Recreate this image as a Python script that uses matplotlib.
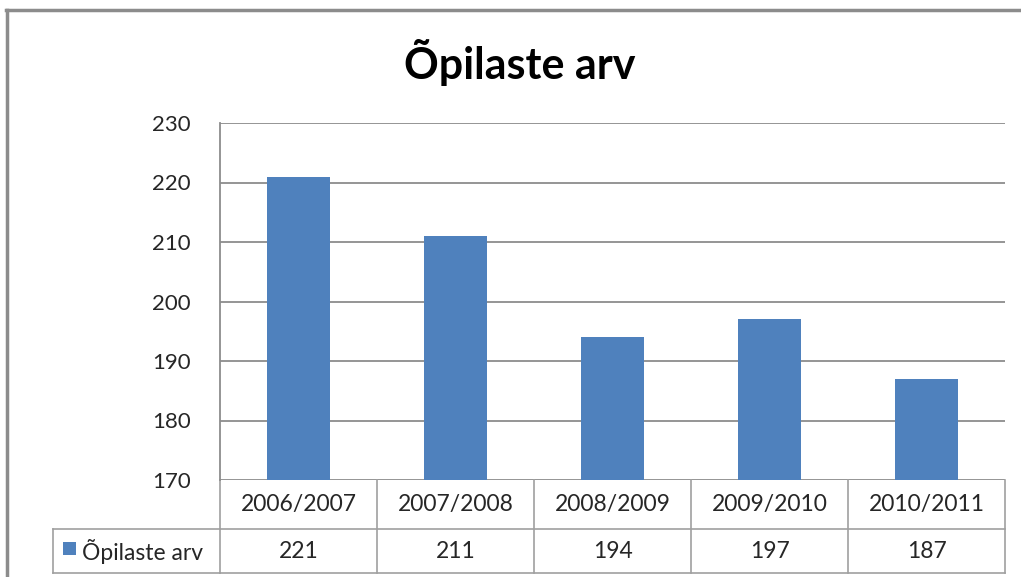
import matplotlib
matplotlib.use("Agg")
import matplotlib.pyplot as plt
from matplotlib.patches import Rectangle
from matplotlib.lines import Line2D

title = "Õpilaste arv"
series_name = "Õpilaste arv"
categories = ["2006/2007", "2007/2008", "2008/2009", "2009/2010", "2010/2011"]
values = [221, 211, 194, 197, 187]
yticks = [170, 180, 190, 200, 210, 220, 230]

plt.rcParams['font.family'] = ['Lato', 'DejaVu Sans']

W, H = 1021, 577
fig = plt.figure(figsize=(W / 100, H / 100), dpi=100)
fig.patch.set_facecolor('white')

def fx(px):
    return px / W

def fy(py):
    return 1 - py / H

# outer frame (left and top)
fig.add_artist(Line2D([fx(6.5), fx(6.5)], [fy(10), fy(H + 5)], color='#8c8c8c', lw=2.5))
fig.add_artist(Line2D([fx(5.5), fx(W + 5)], [fy(10), fy(10)], color='#8c8c8c', lw=2.5))

L, R, T, B = 220, 1005, 123, 480
ax = fig.add_axes([fx(L), fy(B), fx(R) - fx(L), fy(T) - fy(B)])
x = list(range(len(categories)))
ax.bar(x, values, width=0.4, color='#4F81BD', zorder=3)
ax.set_xlim(-0.5, len(categories) - 0.5)
ax.set_ylim(yticks[0], yticks[-1])
ax.set_yticks(yticks)
ax.set_yticklabels([str(v) for v in yticks], fontsize=16, color='#262626')
ax.tick_params(axis='y', length=0, pad=21)
ax.set_xticks([])
ax.grid(axis='y', color='#8c8c8c', lw=1.3, zorder=0)
for s in ['top', 'right', 'bottom']:
    ax.spines[s].set_visible(False)
ax.spines['left'].set_color('#8c8c8c')
ax.spines['left'].set_linewidth(1.3)

fig.suptitle(title, x=0.509, y=fy(63), va='center', fontsize=31, fontweight='bold', color='black')

# data table (drawn below the axes, category columns follow the x data scale)
tc = '#a0a0a0'
trans = ax.get_xaxis_transform()
row1_bot = 529
row2_bot = 573

def ay(py):
    return (B - py) / (B - T)

# horizontal lines
ax.add_line(Line2D([-0.5, len(categories) - 0.5], [ay(row1_bot)] * 2, transform=trans, color=tc, lw=1.2, clip_on=False))
ax.add_line(Line2D([-0.5, len(categories) - 0.5], [ay(row2_bot)] * 2, transform=trans, color=tc, lw=1.2, clip_on=False))
fig.add_artist(Line2D([fx(53), fx(L)], [fy(row1_bot)] * 2, color=tc, lw=1.2))
fig.add_artist(Line2D([fx(53), fx(L)], [fy(row2_bot)] * 2, color=tc, lw=1.2))
fig.add_artist(Line2D([fx(53), fx(53)], [fy(row1_bot), fy(row2_bot)], color=tc, lw=1.2))
# vertical lines
for i in range(len(categories) + 1):
    xv = i - 0.5
    ax.add_line(Line2D([xv, xv], [0, ay(row2_bot)], transform=trans, color=tc, lw=1.2, clip_on=False))

for i, (c, v) in enumerate(zip(categories, values)):
    ax.text(i, ay((B + row1_bot) / 2), c, transform=trans, ha='center', va='center',
            fontsize=16.5, color='#262626', clip_on=False)
    ax.text(i, ay((row1_bot + row2_bot) / 2), str(v), transform=trans, ha='center', va='center',
            fontsize=16.5, color='#262626', clip_on=False)

# legend key in the table
fig.add_artist(Rectangle((fx(63), fy(555)), fx(13), fy(542) - fy(555), facecolor='#4F81BD', edgecolor='none'))
fig.text(fx(82), fy((row1_bot + row2_bot) / 2), series_name, ha='left', va='center', fontsize=16.5, color='#262626')

fig.savefig('out.png', dpi=100, facecolor='white')
